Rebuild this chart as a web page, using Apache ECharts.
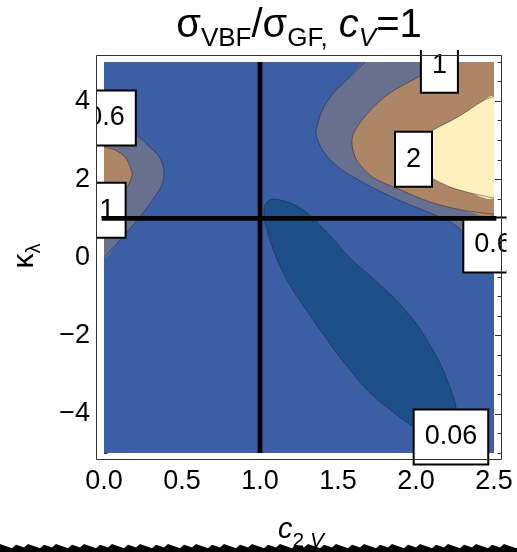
<!DOCTYPE html>
<html><head><meta charset="utf-8">
<script src="https://cdn.jsdelivr.net/npm/echarts@6/dist/echarts.min.js"></script>
<style>html,body{margin:0;padding:0;background:#fff}#c{width:517px;height:552px}</style>
</head><body><div id="c"></div><script>
// ---- data ----
const xTickLabels = ['0.0','0.5','1.0','1.5','2.0','2.5'];
const yTickValues = [-4,-2,0,2,4];
const c2vRange = [0, 2.5];
const klRange = [-5, 5];
// contour curves [c2V, kappa_lambda]
const contour06Right = [[1.673,5],[1.577,4.62],[1.47,4.2],[1.40,3.77],[1.36,3.26],[1.365,3.06],[1.40,2.75],[1.47,2.42],[1.577,2.11],[1.75,1.73],[1.917,1.42],[2.09,1.14],[2.22,0.91],[2.31,0.65],[2.40,0.47],[2.5,0.33]];
const contour1Right = [[2.19,5],[2.04,4.67],[1.83,4.2],[1.69,3.69],[1.60,3.18],[1.59,2.88],[1.62,2.49],[1.72,2.06],[1.90,1.73],[2.09,1.42],[2.30,1.21],[2.5,1.11]];
const contour2Right = [[2.5,4.12],[2.43,4.01],[2.28,3.62],[2.09,3.21],[2.02,2.95],[1.99,2.62],[2.02,2.32],[2.09,2.06],[2.22,1.8],[2.35,1.65],[2.5,1.52]];
const contour06Left = [[0,3.65],[0.08,3.47],[0.15,3.3],[0.21,3.13],[0.28,2.88],[0.36,2.54],[0.385,2.19],[0.37,1.85],[0.31,1.47],[0.24,1.09],[0.17,0.75],[0.08,0.35],[0,0]];
const contour1Left = [[0,2.83],[0.07,2.75],[0.135,2.57],[0.17,2.29],[0.18,2.11],[0.155,1.85],[0.10,1.58],[0.05,1.36],[0,1.2]];
const contour006 = [[1.096,1.496],[1.192,1.394],[1.276,1.215],[1.365,0.908],[1.462,0.499],[1.558,0.064],[1.654,-0.294],[1.756,-0.652],[1.853,-1.010],[1.942,-1.394],[2.026,-1.829],[2.096,-2.289],[2.154,-2.698],[2.199,-3.133],[2.237,-3.542],[2.256,-3.849],[2.237,-4.130],[2.186,-4.335],[2.103,-4.437],[2.026,-4.412],[1.955,-4.258],[1.878,-4.028],[1.788,-3.747],[1.686,-3.389],[1.583,-2.903],[1.487,-2.417],[1.391,-1.880],[1.301,-1.368],[1.218,-0.882],[1.147,-0.371],[1.090,0.141],[1.051,0.627],[1.026,1.061],[1.032,1.343],[1.064,1.471]];
const refC2V = 1;
const refKL = 1;
const contourLabelText = ['0.6','1','1','2','0.6','0.06'];
const contourLabelPos = [[0.013,3.57],[0.02,1.21],[2.15,4.92],[1.984,2.51],[2.494,0.32],[2.224,-4.59]];

// ---- styles ----
const FONT = 'Liberation Sans, Arial, sans-serif';
const COL = { base:'#3b5ea4', low:'#1d4f88', mid:'#687090', high:'#ad8567', top:'#fdf0bc' };
const plotRect = [[c2vRange[0],klRange[0]],[c2vRange[1],klRange[0]],[c2vRange[1],klRange[1]],[c2vRange[0],klRange[1]]];
const regions = [
  { pts: plotRect, color: COL.base, smooth: 0 },
  { pts: contour06Right.concat([[2.8,5.4]]), color: COL.mid, smooth: 0.3 },
  { pts: contour1Right.concat([[2.8,5.4]]), color: COL.high, smooth: 0.3 },
  { pts: contour2Right.concat([[2.7,2.8]]), color: COL.top, smooth: 0.3 },
  { pts: contour06Left.concat([[-0.3,1.8]]), color: COL.mid, smooth: 0.3 },
  { pts: contour1Left.concat([[-0.3,2.0]]), color: COL.high, smooth: 0.3 },
  { pts: contour006, color: COL.low, smooth: 0.35 }
];
const lines = [
  { pts: contour06Right, closed:false }, { pts: contour1Right, closed:false }, { pts: contour2Right, closed:false },
  { pts: contour06Left, closed:false }, { pts: contour1Left, closed:false }, { pts: contour006, closed:true }
];

const chart = echarts.init(document.getElementById('c'), null, {renderer:'canvas'});
const tickColor = '#333';
function xAxisDef(pos, showLabel){
  return { type:'value', min:c2vRange[0], max:c2vRange[1], interval:0.5, position:pos, offset:7,
    axisLine:{show:false}, splitLine:{show:false}, minorSplitLine:{show:false},
    axisTick:{show:true, inside:true, length:6, lineStyle:{color:tickColor, width:1}},
    minorTick:{show:true, splitNumber:5, length:3.5, lineStyle:{color:tickColor, width:1}},
    axisLabel:{show:showLabel, formatter:(v)=>xTickLabels[Math.round(v/0.5)], fontSize:27, color:'#000', fontFamily:FONT, margin:8}
  };
}
function yMinor(pos){
  return { type:'value', min:klRange[0], max:klRange[1], interval:0.5, position:pos, offset:7,
    axisLine:{show:false}, splitLine:{show:false},
    axisTick:{show:true, inside:true, length:3.5, lineStyle:{color:tickColor, width:1}},
    axisLabel:{show:false} };
}
function yMajor(pos, showLabel){
  return { type:'value', min:klRange[0], max:klRange[1], interval:1, position:pos, offset:7,
    axisLine:{show:false}, splitLine:{show:false},
    axisTick:{show:true, inside:true, length:6, customValues:yTickValues, lineStyle:{color:tickColor, width:1}},
    axisLabel:{show:showLabel, customValues:yTickValues, formatter:(v)=> v<0 ? '\u2212'+(-v) : String(v), fontSize:27, color:'#000', fontFamily:FONT, margin:7} };
}

// jagged torn edge at the bottom (decoration)
const tear = [[0,552]];
for (let i=0;i<=130;i++){ tear.push([i*4, 544 + ((i*37)%7) * 0.7]); }
tear.push([517,552]);

chart.setOption({
  animation:false,
  backgroundColor:'#fff',
  grid:{left:104, top:62, width:390, height:391, containLabel:false},
  xAxis:[xAxisDef('bottom', true), xAxisDef('top', false)],
  yAxis:[yMinor('left'), yMajor('left', true), yMinor('right'), yMajor('right', false)],
  graphic:[
    { type:'rect', z:50, shape:{x:96.5, y:55.5, width:405, height:404}, style:{fill:'none', stroke:'#333', lineWidth:1}, silent:true },
    { type:'text', z:50, x:299, y:0, style:{
        text:'{m|σ}{s|VBF}{m|/σ}{s|GF,}{m| }{mi|c}{si|V}{m|=1}',
        align:'center', verticalAlign:'top',
        rich:{
          m:{fontSize:40, lineHeight:52, fontFamily:FONT, fill:'#000'},
          mi:{fontSize:40, lineHeight:52, fontFamily:FONT, fontStyle:'italic', fill:'#000'},
          s:{fontSize:26, lineHeight:26, verticalAlign:'bottom', fontFamily:FONT, fill:'#000'},
          si:{fontSize:26, lineHeight:26, verticalAlign:'bottom', fontFamily:FONT, fontStyle:'italic', fill:'#000'}
        } } },
    { type:'text', z:50, x:24.5, y:256, rotation:Math.PI/2, style:{
        text:'{k|κ}{l|λ}', align:'center', verticalAlign:'middle',
        rich:{
          k:{fontSize:30, lineHeight:40, fontFamily:FONT, fill:'#000'},
          l:{fontSize:20, lineHeight:20, verticalAlign:'bottom', fontFamily:FONT, fill:'#000'}
        } } },
    { type:'text', z:40, x:301, y:508, style:{
        text:'{c|c}{s|2 }{si|V}', align:'center', verticalAlign:'top',
        rich:{
          c:{fontSize:29, lineHeight:44, fontFamily:FONT, fontStyle:'italic', fill:'#000'},
          s:{fontSize:21, lineHeight:21, verticalAlign:'bottom', fontFamily:FONT, fill:'#000'},
          si:{fontSize:21, lineHeight:21, verticalAlign:'bottom', fontFamily:FONT, fontStyle:'italic', fill:'#000'}
        } } },
    { type:'polygon', z:60, shape:{points:tear}, style:{fill:'#000'} }
  ],
  series:[
    { type:'custom', name:'regions', xAxisIndex:0, yAxisIndex:0, clip:true, z:2, silent:true,
      data: regions.map((r,i)=>[i]),
      renderItem:(params, api)=>{
        const r = regions[params.dataIndex];
        return { type:'polygon', shape:{points:r.pts.map(p=>api.coord(p)), smooth:r.smooth}, style:{fill:r.color, stroke:null} };
      } },
    { type:'custom', name:'contours', xAxisIndex:0, yAxisIndex:0, clip:true, z:3, silent:true,
      data: lines.map((l,i)=>[i]),
      renderItem:(params, api)=>{
        const l = lines[params.dataIndex];
        return { type: l.closed ? 'polygon' : 'polyline', shape:{points:l.pts.map(p=>api.coord(p)), smooth: l.closed ? 0.35 : 0.3},
                 style:{fill:null, stroke:'rgba(25,25,45,0.45)', lineWidth:1} };
      } },
    { type:'custom', name:'labels', xAxisIndex:0, yAxisIndex:0, clip:false, z:20, silent:true,
      data: contourLabelPos.map((p,i)=>[p[0],p[1]]),
      renderItem:(params, api)=>{
        const i = params.dataIndex;
        const pt = api.coord(contourLabelPos[i]);
        return { type:'group', clipPath:{type:'rect', shape:{x:96.5, y:50, width:410, height:420}},
          children:[{ type:'text', x:pt[0], y:pt[1], style:{ text:contourLabelText[i], fontSize:27, fontFamily:FONT, fill:'#000',
            align:'center', verticalAlign:'middle', backgroundColor:'#fff', borderColor:'#000', borderWidth:2, padding:[13,10] } }] };
      } },
    { type:'line', name:'vline', xAxisIndex:0, yAxisIndex:0, z:30, symbol:'none', clip:false, silent:true,
      data:[[refC2V, klRange[0]],[refC2V, klRange[1]]], lineStyle:{color:'#000', width:4.7, cap:'butt'} },
    { type:'line', name:'hline', xAxisIndex:0, yAxisIndex:0, z:30, symbol:'none', clip:false, silent:true,
      data:[[c2vRange[0], refKL],[c2vRange[1], refKL]], lineStyle:{color:'#000', width:4.7, cap:'square'} }
  ]
});
</script></body></html>
